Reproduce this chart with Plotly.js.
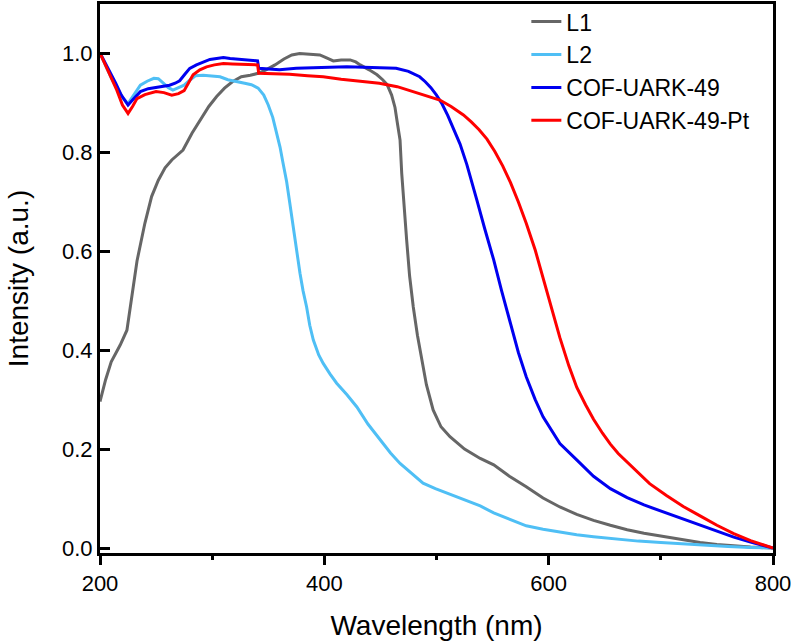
<!DOCTYPE html>
<html>
<head>
<meta charset="utf-8">
<script src="https://cdn.plot.ly/plotly-3.0.1.min.js"></script>
<style>html,body{margin:0;padding:0;background:#fff;}#chart{width:795px;height:644px;}</style>
</head>
<body>
<div id="chart"></div>
<script>
// ---- Data ----
const seriesNames = ["L1", "L2", "COF-UARK-49", "COF-UARK-49-Pt"];
const seriesColors = ["#666666", "#4fbff5", "#0000f0", "#ff0000"];

const l1Wavelength = [200,205,210,218,224,228,233,240,246,252,258,264,270,274,282,290,297,304,311,318,326,334,341,348,356,364,371,378,386,396,402,408,415,423,428,432,440,447,452,456,460,463,465,467.5,469,471,473.4,476,479.3,483,486.8,491,497,504,512,525,539,551,565,580,595,610,625,640,655,670,685,700,720,735,750,765,780,800];
const l1Intensity = [0.296,0.34,0.376,0.41,0.44,0.50,0.58,0.656,0.71,0.743,0.768,0.784,0.795,0.804,0.838,0.868,0.892,0.912,0.929,0.942,0.952,0.955,0.959,0.966,0.976,0.988,0.996,0.999,0.998,0.996,0.99,0.984,0.986,0.986,0.982,0.976,0.966,0.956,0.946,0.936,0.915,0.89,0.86,0.824,0.757,0.69,0.622,0.55,0.487,0.43,0.38,0.33,0.279,0.245,0.225,0.20,0.181,0.168,0.145,0.124,0.101,0.083,0.068,0.056,0.046,0.037,0.030,0.024,0.016,0.011,0.007,0.004,0.002,0.0];

const l2Wavelength = [200,205,210,215,220,225,230,236,242,248,252,256,261,265,270,275,280,285,292,300,307,314,322,329,335,341,346,350,354,357,360.5,363,366.4,369,372.3,375,378.3,381,384.2,387,390.2,395,399,405,411,420,429,439,450,459,467.5,478,488,499,509,521,539,551,565,580,595,610,625,640,660,680,700,720,740,760,780,800];
const l2Intensity = [1.0,0.975,0.95,0.93,0.91,0.898,0.915,0.935,0.943,0.949,0.948,0.94,0.93,0.925,0.93,0.935,0.945,0.954,0.955,0.954,0.952,0.946,0.943,0.939,0.936,0.929,0.915,0.895,0.87,0.845,0.81,0.78,0.74,0.70,0.649,0.60,0.555,0.52,0.487,0.45,0.42,0.39,0.373,0.352,0.333,0.31,0.285,0.25,0.218,0.192,0.171,0.15,0.131,0.12,0.111,0.100,0.085,0.071,0.058,0.045,0.038,0.032,0.027,0.023,0.018,0.014,0.011,0.008,0.005,0.003,0.001,0.0];

const cofWavelength = [200,205,210,214,219,225,229,236,243,250,256,262,267,271,276,280,286,292,298,304,310,316,322,328,334,340.5,341.5,350,360,375,390,405,420,435,450,464,475,485,490,495,500,505,510,515,521,527,532,536,543,551,558,566,573,580,588,595,603,610,625,640,655,670,685,705,720,735,750,765,780,800];
const cofIntensity = [1.0,0.979,0.955,0.939,0.915,0.895,0.905,0.922,0.928,0.931,0.933,0.935,0.939,0.944,0.958,0.969,0.976,0.982,0.987,0.989,0.991,0.989,0.988,0.987,0.986,0.984,0.969,0.968,0.966,0.969,0.970,0.971,0.972,0.971,0.970,0.969,0.963,0.952,0.942,0.930,0.915,0.897,0.874,0.846,0.816,0.775,0.737,0.703,0.645,0.582,0.52,0.454,0.395,0.346,0.30,0.265,0.235,0.211,0.178,0.145,0.12,0.102,0.087,0.071,0.059,0.047,0.035,0.022,0.012,0.0];

const cofPtWavelength = [200,205,210,215,220,225,229,233,240,250,257,264,270,275,279,283,289,295,302,310,318,328,340.5,341.5,355,369,385,399,415,430,449,465,479,491,503,513,524,531,538,545,552,559,566,573,580,588,595,603,610,618,625,633,640,648,655,662,675,690,705,720,735,750,765,780,800];
const cofPtIntensity = [1.0,0.975,0.95,0.925,0.895,0.878,0.892,0.908,0.916,0.922,0.92,0.915,0.918,0.924,0.94,0.956,0.966,0.972,0.976,0.979,0.978,0.977,0.976,0.959,0.958,0.957,0.954,0.952,0.947,0.944,0.939,0.932,0.922,0.914,0.905,0.892,0.875,0.861,0.845,0.826,0.801,0.772,0.738,0.699,0.656,0.602,0.545,0.482,0.425,0.368,0.325,0.289,0.26,0.232,0.21,0.191,0.162,0.13,0.106,0.084,0.065,0.046,0.029,0.015,0.0];

const xTickVals = [200, 400, 600, 800];
const yTickVals = [0.0, 0.2, 0.4, 0.6, 0.8, 1.0];
const yTickText = ["0.0", "0.2", "0.4", "0.6", "0.8", "1.0"];

// ---- Traces ----
const xs = [l1Wavelength, l2Wavelength, cofWavelength, cofPtWavelength];
const ys = [l1Intensity, l2Intensity, cofIntensity, cofPtIntensity];
const traces = seriesNames.map((name, i) => ({
  x: xs[i], y: ys[i], name: name, type: 'scatter', mode: 'lines',
  line: {color: seriesColors[i], width: 3}
}));

const fontFamily = 'Liberation Sans, Arial, Helvetica, sans-serif';
const layout = {
  width: 795, height: 644,
  margin: {l: 100, r: 22, t: 4, b: 91, autoexpand: false},
  paper_bgcolor: '#ffffff', plot_bgcolor: '#ffffff',
  font: {family: fontFamily, color: '#000000', size: 22},
  showlegend: true,
  legend: {
    x: 0.6335, y: 1.007, xanchor: 'left', yanchor: 'top',
    bgcolor: 'rgba(0,0,0,0)', borderwidth: 0,
    font: {family: fontFamily, size: 23, color: '#000000'},
    tracegroupgap: 0
  },
  xaxis: {
    range: [200, 800], tickvals: xTickVals, ticktext: xTickVals.map(String),
    ticks: 'outside', ticklen: 9, tickwidth: 3, tickcolor: '#000',
    minor: {dtick: 100, tick0: 200, ticks: 'outside', ticklen: 4, tickwidth: 3, tickcolor: '#000', showgrid: false},
    showline: true, linecolor: '#000', linewidth: 3, mirror: true,
    showgrid: false, zeroline: false, automargin: false,
    tickfont: {size: 22, family: fontFamily, color: '#000'},
    title: {text: 'Wavelength (nm)', font: {size: 28, family: fontFamily, color: '#000'}, standoff: 20}
  },
  yaxis: {
    range: [-0.01, 1.099], tickvals: yTickVals, ticktext: yTickText,
    ticks: 'inside', ticklen: 10, tickwidth: 3, tickcolor: '#000',
    showline: true, linecolor: '#000', linewidth: 3, mirror: true,
    showgrid: false, zeroline: false, automargin: false,
    tickfont: {size: 22, family: fontFamily, color: '#000'},
    title: {text: 'Intensity (a.u.)', font: {size: 28, family: fontFamily, color: '#000'}, standoff: 26}
  }
};

Plotly.newPlot('chart', traces, layout, {displayModeBar: false, staticPlot: true});
</script>
</body>
</html>
